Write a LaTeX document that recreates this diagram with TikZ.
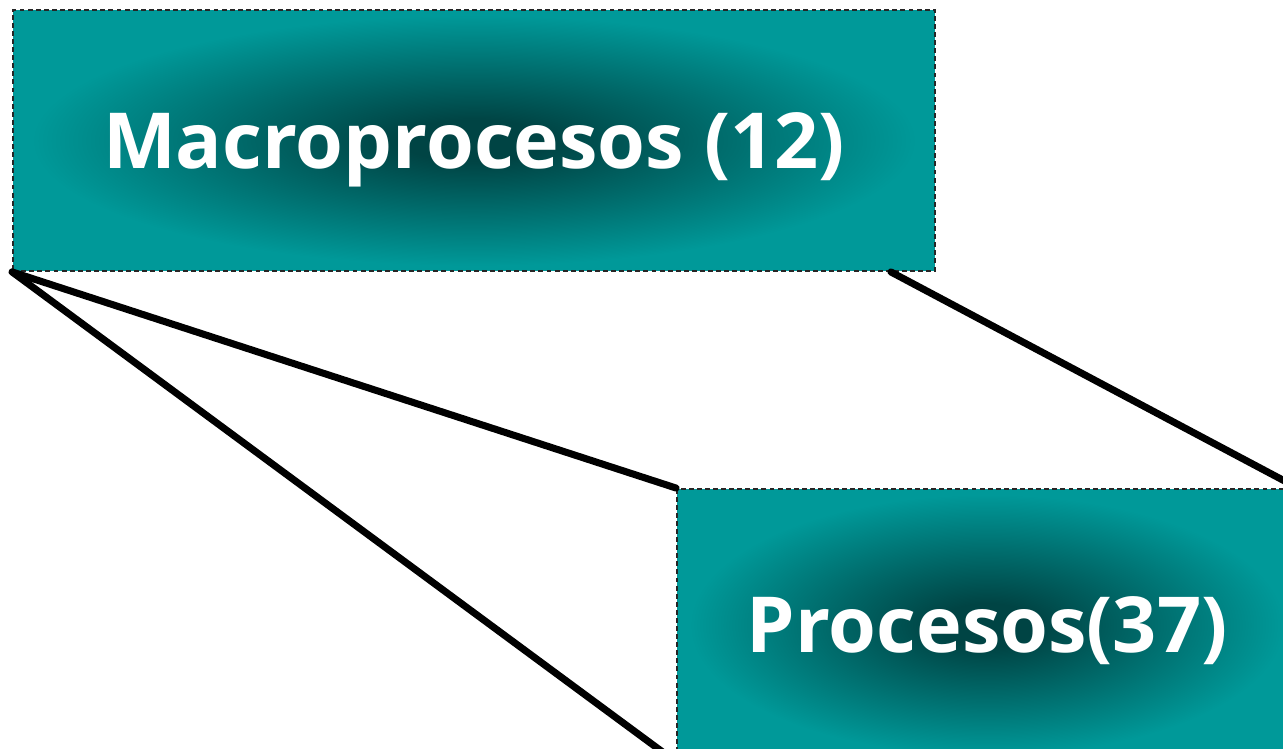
\documentclass[tikz,border=0pt]{standalone}
\usepackage{fontspec}
\setsansfont{Open Sans}
\usetikzlibrary{positioning}

\definecolor{tealbox}{RGB}{0,153,153}
\definecolor{tealdark}{RGB}{0,68,68}
\pgfdeclareradialshading{tealglow}{\pgfpointorigin}{color(0bp)=(tealdark); color(4bp)=(tealdark); color(24bp)=(tealbox); color(50bp)=(tealbox)}

\begin{document}
\begin{tikzpicture}[x=0.02cm, y=-0.02cm,
  procbox/.style={draw=black!85, line width=1.1pt, dash pattern=on 2.8pt off 1.8pt, shade, shading=tealglow, text=white, font=\sffamily\bfseries\fontsize{44}{50}\selectfont, text height=31.4pt, text depth=0pt, inner sep=0pt},
  zoomline/.style={line width=4pt, line cap=round}]

\useasboundingbox (0,0) rectangle (1283,749);
\clip (0,0) rectangle (1283,749);

% Upper box (Macroprocesos)
\node[procbox, minimum width=18.44cm, minimum height=5.22cm] (macro) at (474,140.5) {Macroprocesos (12)};

% Lower box (Procesos), cut by the page edge
\node[procbox, minimum width=12.4cm, minimum height=5.44cm] (proc) at (987,625) {Procesos(37)};

\coordinate (cut) at ([xshift=-0.9cm]macro.south east);

\draw[zoomline] (macro.south west) -- (proc.north west);
\draw[zoomline] (macro.south west) -- (proc.south west);
\draw[zoomline] (cut) -- (proc.north east);

\end{tikzpicture}
\end{document}
